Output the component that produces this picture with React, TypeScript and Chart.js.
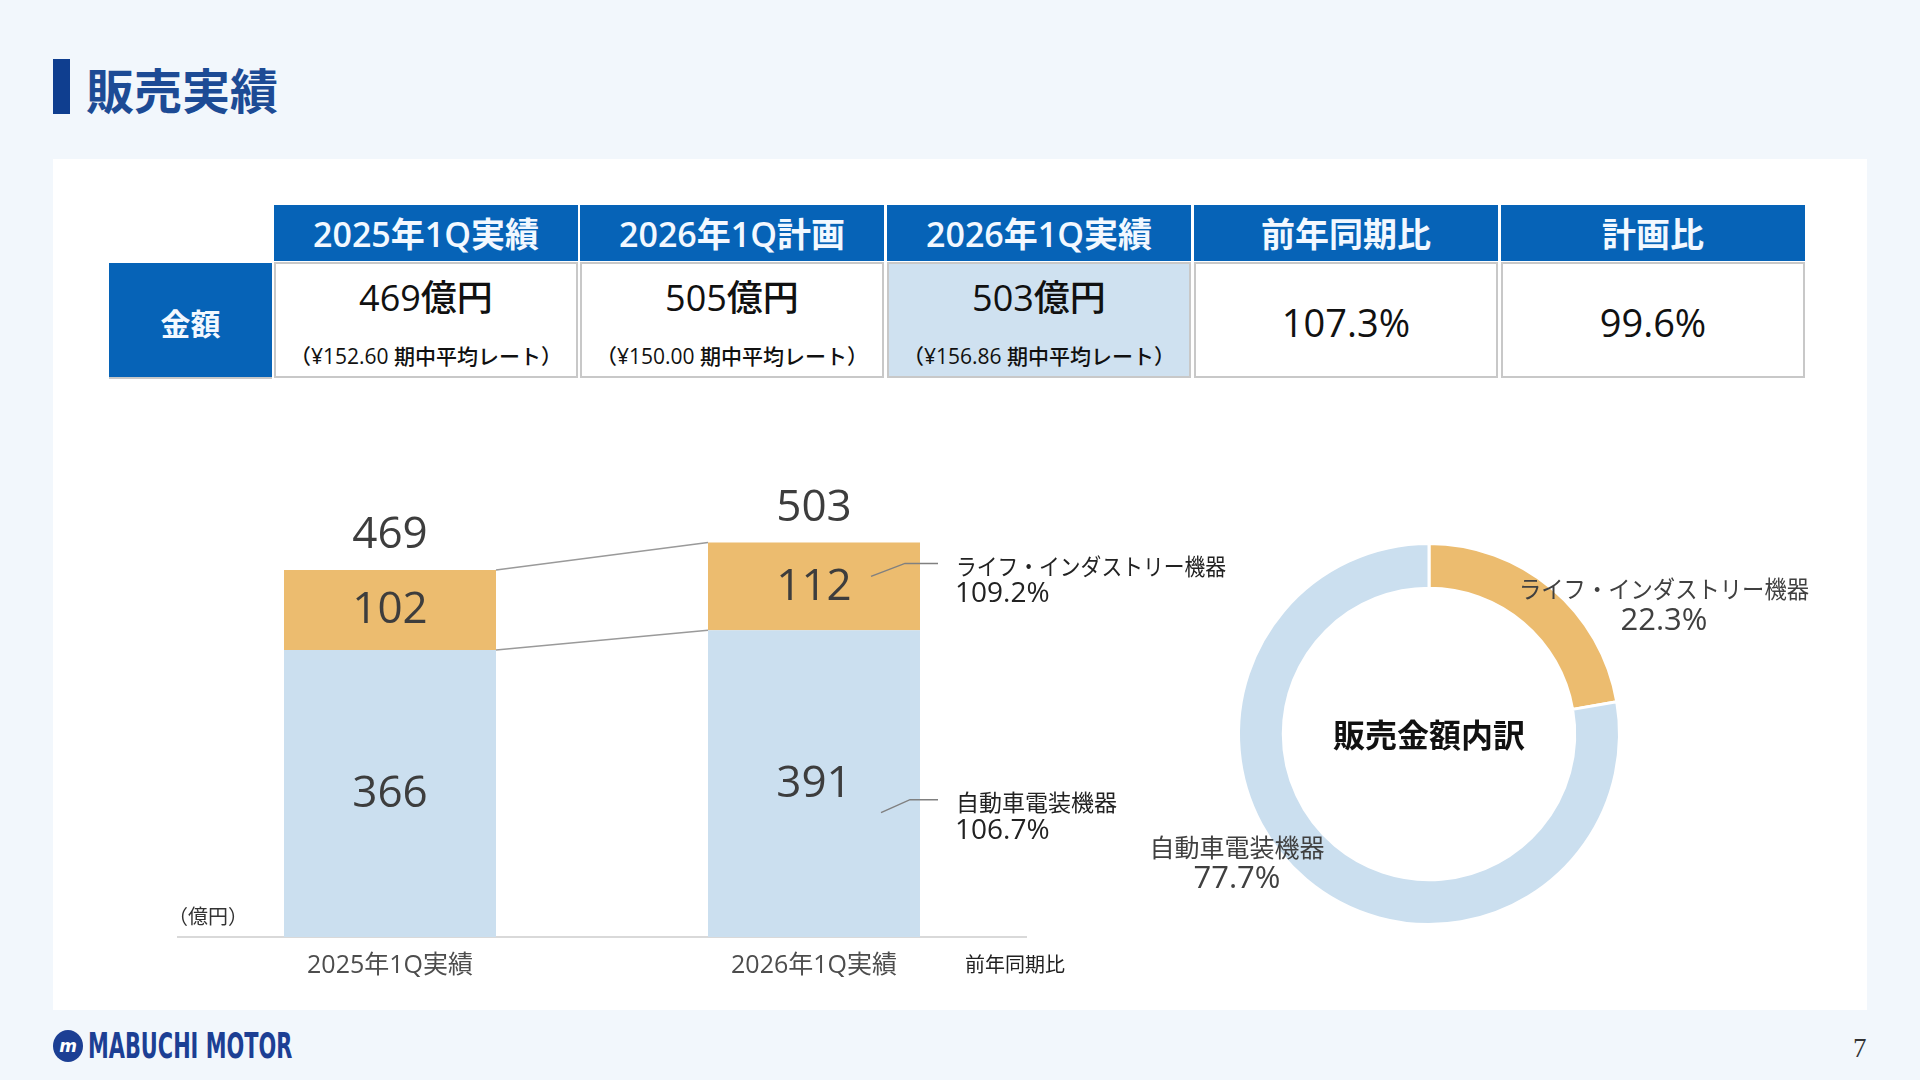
import React, { useEffect, useRef } from "react";
import { Chart, registerables } from "chart.js";

Chart.register(...registerables);

// ---- data ----
const periods = ["2025年1Q実績", "2026年1Q実績"];
const segmentNames = ["自動車電装機器", "ライフ・インダストリー機器"];
const autoValues = [366, 391];
const lifeValues = [102, 112];
const totals = [469, 503];
const segmentYoY = ["106.7%", "109.2%"];
const shareValues = [22.3, 77.7]; // life, auto (clockwise from top)
const shareNames = ["ライフ・インダストリー機器", "自動車電装機器"];

const tableHeaders = ["2025年1Q実績", "2026年1Q計画", "2026年1Q実績", "前年同期比", "計画比"];
const tableAmounts = ["469億円", "505億円", "503億円"];
const tableRates = ["（¥152.60 期中平均レート）", "（¥150.00 期中平均レート）", "（¥156.86 期中平均レート）"];
const tableRatios = ["107.3%", "99.6%"];

// ---- styles ----
const FONT = "'Open Sans', 'Noto Sans CJK JP', sans-serif";
const JP = "'Noto Sans CJK JP', sans-serif";
const BLUE = "#cbdfef";
const ORANGE = "#ecbc6f";
const HEAD = "#0663b7";

const barDecor = {
  id: "barDecor",
  afterDatasetsDraw(chart: any) {
    const { ctx, chartArea } = chart;
    const mAuto = chart.getDatasetMeta(0);
    const mLife = chart.getDatasetMeta(1);
    ctx.save();

    // connectors between the two stacks
    ctx.strokeStyle = "#9a9a9a";
    ctx.lineWidth = 1.5;
    [mAuto, mLife].forEach((meta: any) => {
      const a = meta.data[0];
      const b = meta.data[1];
      ctx.beginPath();
      ctx.moveTo(a.x + a.width / 2, a.y);
      ctx.lineTo(b.x - b.width / 2, b.y);
      ctx.stroke();
    });

    // segment values
    ctx.fillStyle = "#3d3d3d";
    ctx.textAlign = "center";
    ctx.textBaseline = "middle";
    ctx.font = `400 44px ${FONT}`;
    [mAuto, mLife].forEach((meta: any, d: number) => {
      meta.data.forEach((el: any, i: number) => {
        const v = chart.data.datasets[d].data[i];
        ctx.fillText(String(v), el.x, (el.y + el.base) / 2 + 1);
      });
    });

    // totals above the stacks
    mLife.data.forEach((el: any, i: number) => {
      ctx.fillText(String(totals[i]), el.x, el.y - 34);
    });

    // leader lines + year-over-year notes on the latest bar
    const notes = [
      { meta: mLife, d: 1, dy: -10, start: -49, elbow: 33 },
      { meta: mAuto, d: 0, dy: 29, start: -39, elbow: 28 },
    ];
    notes.forEach((n) => {
      const el = n.meta.data[1];
      const right = el.x + el.width / 2;
      const x0 = right + n.start;
      const y0 = (el.y + el.base) / 2 + n.dy;
      const x2 = right + 18;
      const y2 = y0 - 13;
      ctx.strokeStyle = "#808080";
      ctx.lineWidth = 1.5;
      ctx.beginPath();
      ctx.moveTo(x0, y0);
      ctx.lineTo(x2 - n.elbow, y2);
      ctx.lineTo(x2, y2);
      ctx.stroke();
      ctx.textAlign = "left";
      ctx.fillStyle = "#222";
      ctx.font = `400 23px ${JP}`;
      ctx.fillText(segmentNames[n.d], x2 + 18, y2 + 3, 270);
      ctx.font = `400 28px ${FONT}`;
      ctx.fillText(segmentYoY[n.d], x2 + 17, y2 + 31);
    });

    // unit and column caption
    ctx.textAlign = "left";
    ctx.fillStyle = "#333";
    ctx.font = `400 20px ${JP}`;
    ctx.fillText("（億円）", chartArea.left - 10, chartArea.bottom - 21);
    ctx.fillStyle = "#222";
    ctx.fillText("前年同期比", chartArea.right - 61, chartArea.bottom + 27);
    ctx.restore();
  },
};

const donutDecor = {
  id: "donutDecor",
  afterDatasetsDraw(chart: any) {
    const { ctx } = chart;
    const arc = chart.getDatasetMeta(0).data[0];
    const cx = arc.x;
    const cy = arc.y;
    ctx.save();
    ctx.textAlign = "center";
    ctx.textBaseline = "middle";
    ctx.fillStyle = "#111";
    ctx.font = `600 32px ${JP}`;
    ctx.fillText("販売金額内訳", cx, cy + 1);

    ctx.fillStyle = "#404040";
    ctx.font = `400 24px ${JP}`;
    ctx.fillText(shareNames[0], cx + 235, cy - 145, 290);
    ctx.font = `400 25px ${JP}`;
    ctx.fillText(shareNames[1], cx - 192, cy + 113, 180);
    ctx.font = `400 31px ${FONT}`;
    ctx.fillText(`${shareValues[0].toFixed(1)}%`, cx + 235, cy - 113);
    ctx.fillText(`${shareValues[1].toFixed(1)}%`, cx - 192, cy + 145);
    ctx.restore();
  },
};

function BarChart() {
  const ref = useRef<HTMLCanvasElement | null>(null);
  useEffect(() => {
    if (!ref.current) return;
    const chart = new Chart(ref.current, {
      type: "bar",
      data: {
        labels: periods,
        datasets: [
          { label: segmentNames[0], data: autoValues, backgroundColor: BLUE, borderWidth: 0 },
          { label: segmentNames[1], data: lifeValues, backgroundColor: ORANGE, borderWidth: 0 },
        ],
      },
      options: {
        responsive: false,
        animation: false,
        layout: { padding: { left: 18, right: 214, top: 0, bottom: 0 } },
        plugins: { legend: { display: false }, tooltip: { enabled: false } },
        datasets: { bar: { categoryPercentage: 1, barPercentage: 0.5 } },
        scales: {
          x: {
            stacked: true,
            grid: { display: false, drawTicks: false },
            border: { display: true, color: "#d9d9d9", width: 2 },
            ticks: { color: "#4d4d4d", padding: 14, font: { size: 25, family: FONT } },
            afterFit: (s: any) => {
              s.height = 50;
            },
          },
          y: { stacked: true, display: false, min: 0, max: 640 },
        },
      },
      plugins: [barDecor],
    } as any);
    return () => chart.destroy();
  }, []);
  return (
    <canvas
      ref={ref}
      width={1080}
      height={552}
      style={{ position: "absolute", left: 160, top: 435, width: 1080, height: 552 }}
    />
  );
}

function DonutChart() {
  const ref = useRef<HTMLCanvasElement | null>(null);
  useEffect(() => {
    if (!ref.current) return;
    const chart = new Chart(ref.current, {
      type: "doughnut",
      data: {
        labels: shareNames,
        datasets: [
          {
            data: shareValues,
            backgroundColor: [ORANGE, BLUE],
            borderColor: "#ffffff",
            borderWidth: 3,
          },
        ],
      },
      options: {
        responsive: false,
        animation: false,
        cutout: "76.5%",
        layout: { padding: { left: 137, right: 239, top: 22, bottom: 24 } },
        plugins: { legend: { display: false }, tooltip: { enabled: false } },
      },
      plugins: [donutDecor],
    } as any);
    return () => chart.destroy();
  }, []);
  return (
    <canvas
      ref={ref}
      width={760}
      height={430}
      style={{ position: "absolute", left: 1100, top: 520, width: 760, height: 430 }}
    />
  );
}

const COL_X = [274, 580, 887, 1194, 1501];
const COL_W = 304;

function SummaryTable() {
  const centered: React.CSSProperties = {
    position: "absolute",
    left: 0,
    right: 0,
    textAlign: "center",
    lineHeight: 1,
    transform: "translateY(-50%)",
    whiteSpace: "nowrap",
  };
  return (
    <>
      {tableHeaders.map((h, i) => (
        <div
          key={h}
          style={{
            position: "absolute",
            left: COL_X[i],
            top: 205,
            width: COL_W,
            height: 56,
            background: HEAD,
            color: "#f2f8ff",
            fontFamily: FONT,
            fontWeight: 600,
            fontSize: 34,
          }}
        >
          <div style={{ ...centered, top: 29 }}>{h}</div>
        </div>
      ))}
      <div
        style={{
          position: "absolute",
          left: 109,
          top: 263,
          width: 163,
          height: 114,
          background: HEAD,
          borderBottom: "2px solid #c8c8c8",
          color: "#f2f8ff",
          fontFamily: JP,
          fontWeight: 700,
          fontSize: 30,
        }}
      >
        <div style={{ ...centered, top: 59 }}>金額</div>
      </div>
      {tableHeaders.map((h, i) => (
        <div
          key={"c" + h}
          style={{
            position: "absolute",
            left: COL_X[i],
            top: 262,
            width: COL_W,
            height: 116,
            boxSizing: "border-box",
            border: "2px solid #c8c8c8",
            background: i === 2 ? "#cfe1f0" : "#ffffff",
            color: "#111",
            fontFamily: FONT,
          }}
        >
          {i < 3 ? (
            <>
              <div style={{ ...centered, top: 34, fontSize: 36, fontWeight: 500 }}>{tableAmounts[i]}</div>
              <div style={{ ...centered, top: 92, fontSize: 21, fontWeight: 500 }}>{tableRates[i]}</div>
            </>
          ) : (
            <div style={{ ...centered, top: 58, fontSize: 38, fontWeight: 500 }}>{tableRatios[i - 3]}</div>
          )}
        </div>
      ))}
    </>
  );
}

export default function App() {
  return (
    <div
      style={{
        position: "absolute",
        left: 0,
        top: 0,
        width: 1920,
        height: 1080,
        background: "#f2f7fc",
        overflow: "hidden",
        fontFamily: JP,
      }}
    >
      {/* heading */}
      <div style={{ position: "absolute", left: 53, top: 59, width: 17, height: 55, background: "#0f3e8f" }} />
      <div
        style={{
          position: "absolute",
          left: 86,
          top: 60,
          fontSize: 48,
          fontWeight: 700,
          color: "#1d4b95",
          lineHeight: "56px",
          fontFamily: JP,
        }}
      >
        販売実績
      </div>

      {/* white panel */}
      <div style={{ position: "absolute", left: 53, top: 159, width: 1814, height: 851, background: "#ffffff" }} />

      <SummaryTable />
      <BarChart />
      <DonutChart />

      {/* footer */}
      <div
        style={{
          position: "absolute",
          left: 53,
          top: 1030,
          width: 30,
          height: 32,
          borderRadius: "50%",
          background: "#1c3f94",
          color: "#fff",
          fontFamily: "'DejaVu Sans', sans-serif",
          fontWeight: 700,
          fontStyle: "italic",
          fontSize: 17,
          lineHeight: "32px",
          textAlign: "center",
        }}
      >
        m
      </div>
      <div
        style={{
          position: "absolute",
          left: 88,
          top: 1026,
          fontFamily: "'DejaVu Sans', sans-serif",
          fontWeight: 700,
          fontSize: 36,
          lineHeight: "40px",
          color: "#1c3f94",
          transform: "scaleX(0.58)",
          transformOrigin: "left center",
          whiteSpace: "nowrap",
        }}
      >
        MABUCHI MOTOR
      </div>
      <div
        style={{
          position: "absolute",
          left: 1853,
          top: 1033,
          fontFamily: "'Liberation Serif', serif",
          fontSize: 27,
          color: "#333",
          lineHeight: "30px",
        }}
      >
        7
      </div>
    </div>
  );
}
